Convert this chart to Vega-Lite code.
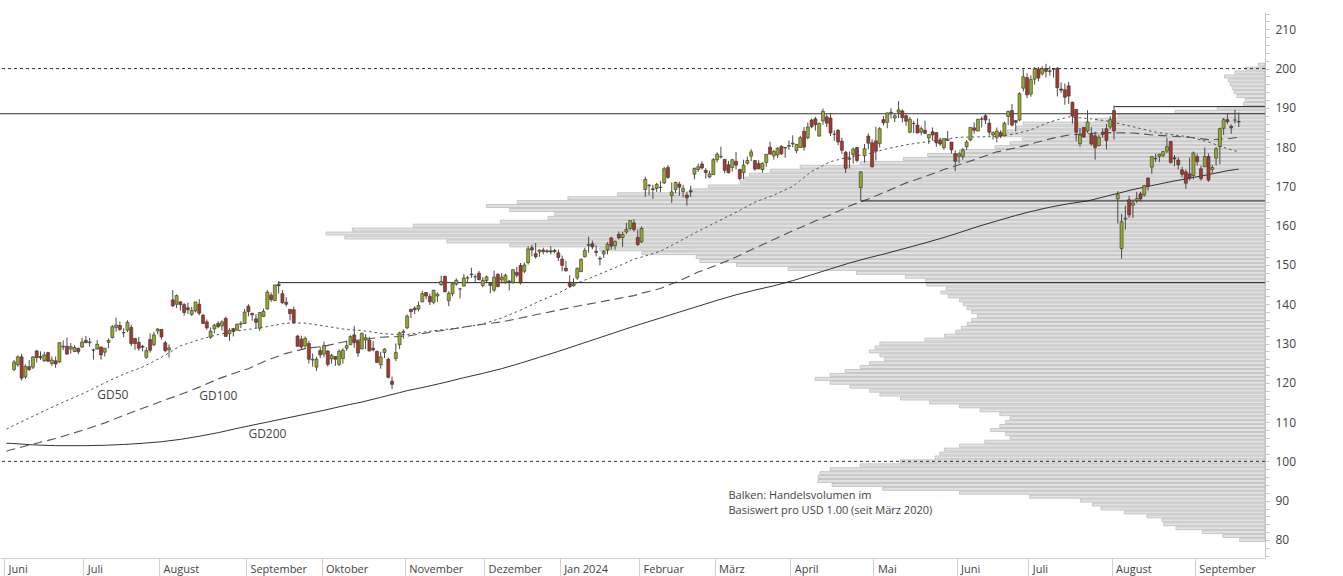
{
  "$schema": "https://vega.github.io/schema/vega-lite/v6.json",
  "width": 1265,
  "height": 546,
  "autosize": {"type": "none"},
  "padding": {"left": 0, "top": 12, "right": 78, "bottom": 18},
  "background": "white",
  "config": {
    "view": {"stroke": null},
    "font": "Open Sans",
    "text": {"font": "Open Sans"}
  },
  "datasets": {
    "candles": [
      {"d":"2023-06-05","o":123.4,"h":125.8,"l":123.0,"c":125.3},
      {"d":"2023-06-06","o":124.6,"h":127.0,"l":124.1,"c":126.6},
      {"d":"2023-06-07","o":126.6,"h":127.4,"l":120.6,"c":121.2},
      {"d":"2023-06-08","o":121.5,"h":124.7,"l":121.0,"c":124.2},
      {"d":"2023-06-09","o":124.1,"h":125.8,"l":123.0,"c":123.4},
      {"d":"2023-06-12","o":124.0,"h":126.8,"l":123.5,"c":126.6},
      {"d":"2023-06-13","o":128.1,"h":128.4,"l":125.2,"c":126.4},
      {"d":"2023-06-14","o":126.7,"h":128.0,"l":125.8,"c":126.4},
      {"d":"2023-06-15","o":125.6,"h":127.9,"l":125.3,"c":127.1},
      {"d":"2023-06-16","o":127.7,"h":127.9,"l":125.3,"c":125.5},
      {"d":"2023-06-20","o":124.9,"h":126.7,"l":124.3,"c":125.8},
      {"d":"2023-06-21","o":125.6,"h":126.7,"l":123.8,"c":124.8},
      {"d":"2023-06-22","o":125.3,"h":130.3,"l":125.1,"c":130.2},
      {"d":"2023-06-23","o":129.1,"h":130.8,"l":128.3,"c":129.3},
      {"d":"2023-06-26","o":129.3,"h":131.5,"l":127.2,"c":127.3},
      {"d":"2023-06-27","o":128.6,"h":130.1,"l":127.4,"c":129.2},
      {"d":"2023-06-28","o":128.0,"h":129.6,"l":127.8,"c":129.0},
      {"d":"2023-06-29","o":128.8,"h":128.9,"l":127.3,"c":127.9},
      {"d":"2023-06-30","o":129.1,"h":131.5,"l":128.9,"c":130.4},
      {"d":"2023-07-03","o":130.8,"h":131.9,"l":130.1,"c":130.2},
      {"d":"2023-07-05","o":130.2,"h":131.4,"l":129.2,"c":130.4},
      {"d":"2023-07-06","o":128.3,"h":128.7,"l":125.9,"c":128.4},
      {"d":"2023-07-07","o":128.6,"h":130.9,"l":128.4,"c":129.8},
      {"d":"2023-07-10","o":129.1,"h":129.3,"l":125.9,"c":127.1},
      {"d":"2023-07-11","o":127.8,"h":128.8,"l":126.7,"c":128.8},
      {"d":"2023-07-12","o":130.3,"h":131.3,"l":128.8,"c":130.8},
      {"d":"2023-07-13","o":131.5,"h":134.7,"l":131.3,"c":134.3},
      {"d":"2023-07-14","o":134.1,"h":136.6,"l":133.0,"c":134.7},
      {"d":"2023-07-17","o":134.6,"h":135.6,"l":133.2,"c":133.6},
      {"d":"2023-07-18","o":132.7,"h":133.9,"l":131.6,"c":132.8},
      {"d":"2023-07-19","o":133.4,"h":135.9,"l":132.9,"c":135.4},
      {"d":"2023-07-20","o":134.1,"h":134.8,"l":129.3,"c":130.0},
      {"d":"2023-07-21","o":131.3,"h":131.4,"l":128.4,"c":130.0},
      {"d":"2023-07-24","o":130.3,"h":131.7,"l":128.2,"c":128.8},
      {"d":"2023-07-25","o":129.3,"h":129.6,"l":128.0,"c":129.1},
      {"d":"2023-07-26","o":126.5,"h":129.1,"l":126.1,"c":128.2},
      {"d":"2023-07-27","o":131.0,"h":132.6,"l":127.7,"c":128.3},
      {"d":"2023-07-28","o":129.7,"h":133.0,"l":129.3,"c":132.2},
      {"d":"2023-07-31","o":133.2,"h":133.9,"l":132.4,"c":133.7},
      {"d":"2023-08-01","o":133.6,"h":133.7,"l":131.0,"c":131.7},
      {"d":"2023-08-02","o":130.2,"h":130.7,"l":127.8,"c":128.2},
      {"d":"2023-08-03","o":128.4,"h":129.8,"l":126.4,"c":128.9},
      {"d":"2023-08-04","o":141.1,"h":143.6,"l":139.3,"c":139.6},
      {"d":"2023-08-07","o":140.0,"h":142.5,"l":139.0,"c":142.2},
      {"d":"2023-08-08","o":140.6,"h":140.8,"l":138.4,"c":139.9},
      {"d":"2023-08-09","o":139.9,"h":140.3,"l":137.1,"c":137.9},
      {"d":"2023-08-10","o":139.1,"h":140.4,"l":137.5,"c":138.6},
      {"d":"2023-08-11","o":137.4,"h":139.3,"l":137.0,"c":138.4},
      {"d":"2023-08-14","o":138.3,"h":140.6,"l":137.9,"c":140.6},
      {"d":"2023-08-15","o":140.0,"h":141.3,"l":137.2,"c":137.7},
      {"d":"2023-08-16","o":137.2,"h":137.6,"l":135.0,"c":135.1},
      {"d":"2023-08-17","o":135.5,"h":136.1,"l":133.5,"c":134.0},
      {"d":"2023-08-18","o":131.6,"h":134.1,"l":131.2,"c":133.2},
      {"d":"2023-08-21","o":133.7,"h":135.0,"l":132.6,"c":134.7},
      {"d":"2023-08-22","o":135.1,"h":135.7,"l":133.9,"c":134.3},
      {"d":"2023-08-23","o":134.5,"h":135.9,"l":133.3,"c":135.5},
      {"d":"2023-08-24","o":136.4,"h":136.8,"l":131.8,"c":131.8},
      {"d":"2023-08-25","o":132.5,"h":133.9,"l":130.7,"c":133.3},
      {"d":"2023-08-28","o":133.8,"h":133.9,"l":131.8,"c":133.1},
      {"d":"2023-08-29","o":133.4,"h":135.1,"l":133.3,"c":134.9},
      {"d":"2023-08-30","o":134.9,"h":135.7,"l":133.9,"c":135.1},
      {"d":"2023-08-31","o":135.1,"h":138.8,"l":135.0,"c":138.0},
      {"d":"2023-09-01","o":139.5,"h":140.0,"l":136.9,"c":138.1},
      {"d":"2023-09-05","o":137.7,"h":137.8,"l":135.8,"c":137.3},
      {"d":"2023-09-06","o":136.3,"h":137.5,"l":133.9,"c":135.4},
      {"d":"2023-09-07","o":133.9,"h":138.0,"l":133.2,"c":137.9},
      {"d":"2023-09-08","o":136.9,"h":138.9,"l":136.8,"c":138.2},
      {"d":"2023-09-11","o":138.8,"h":143.6,"l":138.6,"c":143.1},
      {"d":"2023-09-12","o":142.3,"h":143.0,"l":140.6,"c":141.2},
      {"d":"2023-09-13","o":140.9,"h":145.0,"l":140.9,"c":144.9},
      {"d":"2023-09-14","o":145.1,"h":145.9,"l":142.7,"c":144.7},
      {"d":"2023-09-15","o":142.7,"h":143.6,"l":140.1,"c":140.4},
      {"d":"2023-09-18","o":140.5,"h":141.8,"l":139.4,"c":140.0},
      {"d":"2023-09-19","o":138.7,"h":138.8,"l":135.9,"c":137.6},
      {"d":"2023-09-20","o":138.6,"h":139.4,"l":135.1,"c":135.3},
      {"d":"2023-09-21","o":131.9,"h":132.2,"l":129.2,"c":129.3},
      {"d":"2023-09-22","o":131.1,"h":132.0,"l":128.5,"c":129.1},
      {"d":"2023-09-25","o":129.4,"h":131.8,"l":128.8,"c":131.3},
      {"d":"2023-09-26","o":130.0,"h":130.7,"l":124.9,"c":126.0},
      {"d":"2023-09-27","o":125.8,"h":127.5,"l":124.1,"c":126.0},
      {"d":"2023-09-28","o":124.0,"h":126.6,"l":123.0,"c":126.0},
      {"d":"2023-09-29","o":128.2,"h":129.2,"l":126.3,"c":127.1},
      {"d":"2023-10-02","o":127.3,"h":130.5,"l":126.5,"c":129.5},
      {"d":"2023-10-03","o":128.1,"h":128.3,"l":124.1,"c":124.7},
      {"d":"2023-10-04","o":126.1,"h":127.4,"l":124.9,"c":127.0},
      {"d":"2023-10-05","o":126.7,"h":126.8,"l":124.3,"c":126.0},
      {"d":"2023-10-06","o":124.7,"h":128.5,"l":124.3,"c":128.0},
      {"d":"2023-10-09","o":126.2,"h":128.8,"l":124.9,"c":128.3},
      {"d":"2023-10-10","o":128.8,"h":130.7,"l":128.1,"c":129.5},
      {"d":"2023-10-11","o":129.7,"h":132.1,"l":129.6,"c":131.8},
      {"d":"2023-10-12","o":132.2,"h":134.5,"l":128.9,"c":130.2},
      {"d":"2023-10-13","o":130.6,"h":130.9,"l":126.6,"c":127.6},
      {"d":"2023-10-16","o":128.6,"h":132.8,"l":128.6,"c":132.6},
      {"d":"2023-10-17","o":130.9,"h":132.4,"l":128.6,"c":131.5},
      {"d":"2023-10-18","o":130.9,"h":131.7,"l":128.0,"c":128.1},
      {"d":"2023-10-19","o":128.8,"h":130.6,"l":128.0,"c":128.4},
      {"d":"2023-10-20","o":128.0,"h":128.2,"l":125.0,"c":125.2},
      {"d":"2023-10-23","o":124.6,"h":127.9,"l":123.6,"c":126.6},
      {"d":"2023-10-24","o":127.7,"h":128.8,"l":126.3,"c":128.6},
      {"d":"2023-10-25","o":126.0,"h":126.4,"l":121.1,"c":121.4},
      {"d":"2023-10-26","o":120.4,"h":121.6,"l":118.4,"c":119.6},
      {"d":"2023-10-27","o":126.2,"h":130.0,"l":125.5,"c":127.7},
      {"d":"2023-10-30","o":129.7,"h":133.0,"l":128.6,"c":132.7},
      {"d":"2023-10-31","o":132.8,"h":133.6,"l":131.2,"c":133.1},
      {"d":"2023-11-01","o":134.0,"h":137.4,"l":133.7,"c":137.0},
      {"d":"2023-11-02","o":138.7,"h":138.8,"l":136.5,"c":138.1},
      {"d":"2023-11-03","o":139.0,"h":139.5,"l":137.5,"c":138.6},
      {"d":"2023-11-06","o":138.8,"h":140.7,"l":138.2,"c":139.7},
      {"d":"2023-11-07","o":140.6,"h":143.4,"l":140.5,"c":142.7},
      {"d":"2023-11-08","o":143.0,"h":143.1,"l":141.3,"c":142.1},
      {"d":"2023-11-09","o":142.0,"h":142.7,"l":139.8,"c":140.6},
      {"d":"2023-11-10","o":140.5,"h":143.6,"l":140.0,"c":143.6},
      {"d":"2023-11-13","o":142.1,"h":143.0,"l":140.6,"c":142.6},
      {"d":"2023-11-14","o":145.0,"h":147.3,"l":144.7,"c":145.8},
      {"d":"2023-11-15","o":147.1,"h":147.3,"l":143.0,"c":143.2},
      {"d":"2023-11-16","o":140.9,"h":143.3,"l":139.5,"c":142.8},
      {"d":"2023-11-17","o":142.7,"h":145.5,"l":142.0,"c":145.2},
      {"d":"2023-11-20","o":145.1,"h":146.6,"l":144.7,"c":146.1},
      {"d":"2023-11-21","o":143.9,"h":144.1,"l":141.5,"c":143.9},
      {"d":"2023-11-22","o":144.6,"h":147.7,"l":144.6,"c":146.7},
      {"d":"2023-11-24","o":146.7,"h":147.2,"l":145.3,"c":146.7},
      {"d":"2023-11-27","o":147.5,"h":149.3,"l":146.7,"c":147.7},
      {"d":"2023-11-28","o":146.98,"h":147.6,"l":145.5,"c":147.0},
      {"d":"2023-11-29","o":147.9,"h":148.5,"l":146.0,"c":146.3},
      {"d":"2023-11-30","o":144.8,"h":146.9,"l":144.3,"c":146.1},
      {"d":"2023-12-01","o":146.0,"h":147.3,"l":145.6,"c":147.0},
      {"d":"2023-12-04","o":145.3,"h":145.4,"l":142.8,"c":144.8},
      {"d":"2023-12-05","o":143.6,"h":148.6,"l":143.1,"c":146.9},
      {"d":"2023-12-06","o":147.6,"h":147.9,"l":144.3,"c":144.5},
      {"d":"2023-12-07","o":146.2,"h":147.9,"l":145.3,"c":146.9},
      {"d":"2023-12-08","o":145.5,"h":147.8,"l":145.2,"c":147.4},
      {"d":"2023-12-11","o":145.7,"h":146.2,"l":143.5,"c":145.9},
      {"d":"2023-12-12","o":145.5,"h":148.9,"l":145.3,"c":148.8},
      {"d":"2023-12-13","o":148.1,"h":149.5,"l":146.8,"c":147.4},
      {"d":"2023-12-14","o":149.9,"h":150.5,"l":145.0,"c":145.5},
      {"d":"2023-12-15","o":148.4,"h":150.6,"l":147.9,"c":150.0},
      {"d":"2023-12-18","o":150.6,"h":154.8,"l":150.1,"c":154.1},
      {"d":"2023-12-19","o":154.4,"h":155.1,"l":152.2,"c":153.8},
      {"d":"2023-12-20","o":152.9,"h":155.6,"l":151.6,"c":152.1},
      {"d":"2023-12-21","o":153.3,"h":154.0,"l":152.1,"c":153.8},
      {"d":"2023-12-22","o":153.8,"h":154.4,"l":152.7,"c":153.4},
      {"d":"2023-12-26","o":153.6,"h":154.0,"l":153.0,"c":153.4},
      {"d":"2023-12-27","o":153.6,"h":154.8,"l":152.7,"c":153.3},
      {"d":"2023-12-28","o":153.7,"h":154.1,"l":153.0,"c":153.4},
      {"d":"2023-12-29","o":153.1,"h":153.9,"l":151.0,"c":151.9},
      {"d":"2024-01-02","o":151.5,"h":152.4,"l":148.4,"c":149.9},
      {"d":"2024-01-03","o":149.2,"h":151.1,"l":148.3,"c":148.5},
      {"d":"2024-01-04","o":145.6,"h":147.4,"l":144.1,"c":144.6},
      {"d":"2024-01-05","o":144.7,"h":146.6,"l":144.5,"c":145.2},
      {"d":"2024-01-08","o":146.7,"h":149.4,"l":146.2,"c":149.1},
      {"d":"2024-01-09","o":148.3,"h":151.7,"l":148.2,"c":151.4},
      {"d":"2024-01-10","o":152.1,"h":154.4,"l":151.9,"c":153.7},
      {"d":"2024-01-11","o":155.0,"h":157.2,"l":153.1,"c":155.2},
      {"d":"2024-01-12","o":155.4,"h":156.2,"l":154.0,"c":154.6},
      {"d":"2024-01-16","o":153.5,"h":155.0,"l":152.2,"c":153.2},
      {"d":"2024-01-17","o":151.5,"h":152.2,"l":149.9,"c":151.7},
      {"d":"2024-01-18","o":152.8,"h":153.8,"l":151.8,"c":153.5},
      {"d":"2024-01-19","o":153.8,"h":155.8,"l":152.7,"c":155.3},
      {"d":"2024-01-22","o":156.9,"h":157.1,"l":153.9,"c":154.8},
      {"d":"2024-01-23","o":154.9,"h":156.2,"l":153.9,"c":156.0},
      {"d":"2024-01-24","o":157.8,"h":158.5,"l":156.5,"c":156.9},
      {"d":"2024-01-25","o":157.0,"h":158.5,"l":154.6,"c":157.8},
      {"d":"2024-01-26","o":158.4,"h":160.7,"l":157.9,"c":159.1},
      {"d":"2024-01-29","o":159.3,"h":161.3,"l":158.8,"c":161.3},
      {"d":"2024-01-30","o":160.7,"h":161.7,"l":158.5,"c":159.0},
      {"d":"2024-01-31","o":157.0,"h":159.0,"l":154.8,"c":155.2},
      {"d":"2024-02-01","o":155.9,"h":159.8,"l":155.6,"c":159.3},
      {"d":"2024-02-02","o":169.2,"h":172.5,"l":167.3,"c":171.8},
      {"d":"2024-02-05","o":170.2,"h":170.6,"l":167.7,"c":170.3},
      {"d":"2024-02-06","o":169.4,"h":170.4,"l":166.8,"c":169.2},
      {"d":"2024-02-07","o":169.5,"h":170.9,"l":168.6,"c":170.5},
      {"d":"2024-02-08","o":169.7,"h":171.4,"l":168.5,"c":169.8},
      {"d":"2024-02-09","o":170.9,"h":175.0,"l":170.6,"c":174.5},
      {"d":"2024-02-12","o":174.8,"h":175.4,"l":171.9,"c":172.3},
      {"d":"2024-02-13","o":167.7,"h":171.0,"l":165.8,"c":168.6},
      {"d":"2024-02-14","o":169.2,"h":171.2,"l":168.3,"c":171.0},
      {"d":"2024-02-15","o":170.6,"h":171.2,"l":167.6,"c":169.8},
      {"d":"2024-02-16","o":168.7,"h":170.4,"l":167.2,"c":169.5},
      {"d":"2024-02-20","o":167.8,"h":168.7,"l":165.1,"c":167.1},
      {"d":"2024-02-21","o":168.9,"h":170.2,"l":167.3,"c":168.6},
      {"d":"2024-02-22","o":173.1,"h":174.8,"l":171.8,"c":174.6},
      {"d":"2024-02-23","o":174.3,"h":175.8,"l":173.7,"c":175.0},
      {"d":"2024-02-26","o":175.7,"h":176.4,"l":174.3,"c":174.7},
      {"d":"2024-02-27","o":174.1,"h":174.6,"l":172.0,"c":173.5},
      {"d":"2024-02-28","o":172.4,"h":174.0,"l":172.1,"c":173.2},
      {"d":"2024-02-29","o":173.0,"h":177.2,"l":172.9,"c":176.8},
      {"d":"2024-03-01","o":176.8,"h":178.7,"l":176.1,"c":178.2},
      {"d":"2024-03-04","o":177.5,"h":180.1,"l":177.1,"c":177.6},
      {"d":"2024-03-05","o":176.9,"h":176.9,"l":173.3,"c":174.1},
      {"d":"2024-03-06","o":175.5,"h":176.5,"l":173.3,"c":173.5},
      {"d":"2024-03-07","o":174.8,"h":177.0,"l":173.8,"c":176.8},
      {"d":"2024-03-08","o":176.4,"h":178.8,"l":174.3,"c":175.4},
      {"d":"2024-03-11","o":174.3,"h":174.5,"l":171.5,"c":172.0},
      {"d":"2024-03-12","o":173.5,"h":176.8,"l":171.8,"c":175.4},
      {"d":"2024-03-13","o":175.9,"h":177.6,"l":175.5,"c":176.6},
      {"d":"2024-03-14","o":177.7,"h":179.5,"l":176.4,"c":178.8},
      {"d":"2024-03-15","o":176.6,"h":176.6,"l":174.0,"c":174.4},
      {"d":"2024-03-18","o":175.8,"h":176.7,"l":174.3,"c":174.5},
      {"d":"2024-03-19","o":174.3,"h":176.1,"l":173.5,"c":175.9},
      {"d":"2024-03-20","o":176.1,"h":178.2,"l":175.0,"c":178.2},
      {"d":"2024-03-21","o":180.0,"h":181.4,"l":178.2,"c":178.2},
      {"d":"2024-03-22","o":177.8,"h":179.3,"l":176.8,"c":178.9},
      {"d":"2024-03-25","o":178.0,"h":180.0,"l":177.2,"c":179.7},
      {"d":"2024-03-26","o":180.2,"h":180.5,"l":178.0,"c":178.3},
      {"d":"2024-03-27","o":179.9,"h":180.0,"l":177.3,"c":179.8},
      {"d":"2024-03-28","o":180.2,"h":181.7,"l":179.3,"c":180.4},
      {"d":"2024-04-01","o":180.8,"h":183.0,"l":180.0,"c":181.0},
      {"d":"2024-04-02","o":179.1,"h":180.8,"l":178.4,"c":180.7},
      {"d":"2024-04-03","o":179.9,"h":182.9,"l":179.8,"c":182.4},
      {"d":"2024-04-04","o":184.0,"h":185.1,"l":179.1,"c":180.0},
      {"d":"2024-04-05","o":182.4,"h":186.3,"l":182.0,"c":185.1},
      {"d":"2024-04-08","o":186.9,"h":187.3,"l":184.8,"c":185.2},
      {"d":"2024-04-09","o":187.2,"h":187.7,"l":184.2,"c":185.7},
      {"d":"2024-04-10","o":182.8,"h":186.3,"l":182.7,"c":186.0},
      {"d":"2024-04-11","o":186.7,"h":189.8,"l":185.7,"c":189.1},
      {"d":"2024-04-12","o":187.7,"h":188.4,"l":185.1,"c":186.1},
      {"d":"2024-04-15","o":187.4,"h":188.7,"l":182.8,"c":183.6},
      {"d":"2024-04-16","o":183.3,"h":184.3,"l":181.6,"c":183.3},
      {"d":"2024-04-17","o":184.3,"h":184.6,"l":180.5,"c":181.3},
      {"d":"2024-04-18","o":181.5,"h":182.4,"l":178.3,"c":179.2},
      {"d":"2024-04-19","o":178.7,"h":179.0,"l":173.4,"c":174.6},
      {"d":"2024-04-22","o":176.9,"h":178.9,"l":174.6,"c":177.2},
      {"d":"2024-04-23","o":178.1,"h":179.9,"l":175.8,"c":179.5},
      {"d":"2024-04-24","o":179.9,"h":180.0,"l":176.1,"c":176.6},
      {"d":"2024-04-25","o":169.7,"h":173.9,"l":166.3,"c":173.7},
      {"d":"2024-04-26","o":177.8,"h":180.8,"l":176.1,"c":179.6},
      {"d":"2024-04-29","o":182.8,"h":183.5,"l":179.4,"c":181.0},
      {"d":"2024-04-30","o":181.1,"h":182.0,"l":174.8,"c":175.0},
      {"d":"2024-05-01","o":181.6,"h":185.2,"l":176.6,"c":179.0},
      {"d":"2024-05-02","o":180.9,"h":185.1,"l":179.9,"c":184.7},
      {"d":"2024-05-03","o":187.0,"h":187.9,"l":185.5,"c":186.2},
      {"d":"2024-05-06","o":186.3,"h":188.8,"l":184.8,"c":188.7},
      {"d":"2024-05-07","o":188.9,"h":189.9,"l":187.3,"c":188.8},
      {"d":"2024-05-08","o":187.4,"h":188.4,"l":186.4,"c":188.0},
      {"d":"2024-05-09","o":188.9,"h":191.7,"l":187.4,"c":189.5},
      {"d":"2024-05-10","o":189.2,"h":189.6,"l":186.3,"c":187.5},
      {"d":"2024-05-13","o":188.0,"h":188.3,"l":185.4,"c":186.6},
      {"d":"2024-05-14","o":183.8,"h":187.7,"l":183.5,"c":187.1},
      {"d":"2024-05-15","o":186.0,"h":186.7,"l":183.6,"c":186.0},
      {"d":"2024-05-16","o":185.6,"h":187.3,"l":183.5,"c":183.6},
      {"d":"2024-05-17","o":183.8,"h":185.3,"l":183.0,"c":184.7},
      {"d":"2024-05-20","o":184.3,"h":186.7,"l":183.3,"c":183.5},
      {"d":"2024-05-21","o":182.3,"h":183.3,"l":180.8,"c":183.2},
      {"d":"2024-05-22","o":183.9,"h":185.0,"l":181.6,"c":183.1},
      {"d":"2024-05-23","o":183.7,"h":183.8,"l":180.1,"c":181.1},
      {"d":"2024-05-24","o":181.7,"h":182.4,"l":180.3,"c":180.8},
      {"d":"2024-05-28","o":179.9,"h":182.2,"l":179.3,"c":182.2},
      {"d":"2024-05-29","o":181.7,"h":184.1,"l":181.5,"c":182.0},
      {"d":"2024-05-30","o":181.3,"h":181.3,"l":178.4,"c":179.3},
      {"d":"2024-05-31","o":178.3,"h":179.2,"l":173.9,"c":176.4},
      {"d":"2024-06-03","o":177.7,"h":178.7,"l":175.9,"c":178.3},
      {"d":"2024-06-04","o":177.6,"h":179.8,"l":176.8,"c":179.3},
      {"d":"2024-06-05","o":180.1,"h":181.8,"l":179.3,"c":181.3},
      {"d":"2024-06-06","o":181.8,"h":185.0,"l":181.5,"c":185.0},
      {"d":"2024-06-07","o":184.9,"h":186.3,"l":183.4,"c":184.3},
      {"d":"2024-06-10","o":184.1,"h":187.2,"l":184.0,"c":187.1},
      {"d":"2024-06-11","o":187.1,"h":187.8,"l":185.0,"c":187.2},
      {"d":"2024-06-12","o":188.0,"h":188.4,"l":185.9,"c":186.9},
      {"d":"2024-06-13","o":186.1,"h":187.2,"l":182.9,"c":183.8},
      {"d":"2024-06-14","o":183.1,"h":184.0,"l":181.9,"c":183.7},
      {"d":"2024-06-17","o":182.5,"h":185.0,"l":181.2,"c":184.1},
      {"d":"2024-06-18","o":183.7,"h":184.3,"l":182.3,"c":182.8},
      {"d":"2024-06-20","o":182.9,"h":186.5,"l":182.7,"c":186.1},
      {"d":"2024-06-21","o":187.8,"h":189.3,"l":185.6,"c":189.1},
      {"d":"2024-06-24","o":189.3,"h":191.0,"l":185.3,"c":185.6},
      {"d":"2024-06-25","o":186.8,"h":186.9,"l":184.0,"c":186.3},
      {"d":"2024-06-26","o":186.9,"h":194.0,"l":186.6,"c":193.6},
      {"d":"2024-06-27","o":195.0,"h":199.8,"l":194.2,"c":197.9},
      {"d":"2024-06-28","o":197.7,"h":198.8,"l":192.5,"c":193.3},
      {"d":"2024-07-01","o":193.5,"h":198.3,"l":192.8,"c":197.2},
      {"d":"2024-07-02","o":197.3,"h":200.4,"l":195.9,"c":200.0},
      {"d":"2024-07-03","o":199.9,"h":200.4,"l":196.8,"c":197.6},
      {"d":"2024-07-05","o":198.7,"h":200.6,"l":198.2,"c":200.0},
      {"d":"2024-07-08","o":200.0,"h":201.2,"l":197.7,"c":199.3},
      {"d":"2024-07-09","o":199.4,"h":200.6,"l":198.2,"c":199.3},
      {"d":"2024-07-10","o":200.0,"h":200.1,"l":197.7,"c":199.8},
      {"d":"2024-07-11","o":200.1,"h":200.3,"l":192.9,"c":195.1},
      {"d":"2024-07-12","o":194.8,"h":196.5,"l":193.8,"c":194.5},
      {"d":"2024-07-15","o":194.6,"h":196.2,"l":190.8,"c":192.7},
      {"d":"2024-07-16","o":195.6,"h":196.6,"l":191.0,"c":193.0},
      {"d":"2024-07-17","o":191.4,"h":191.6,"l":186.0,"c":187.9},
      {"d":"2024-07-18","o":189.6,"h":189.7,"l":181.5,"c":183.8},
      {"d":"2024-07-19","o":180.9,"h":184.9,"l":180.1,"c":183.1},
      {"d":"2024-07-22","o":185.0,"h":185.1,"l":182.3,"c":182.6},
      {"d":"2024-07-23","o":184.1,"h":189.4,"l":183.6,"c":186.4},
      {"d":"2024-07-24","o":183.2,"h":185.1,"l":180.4,"c":180.8},
      {"d":"2024-07-25","o":182.9,"h":183.9,"l":176.8,"c":179.9},
      {"d":"2024-07-26","o":180.4,"h":183.2,"l":180.2,"c":182.5},
      {"d":"2024-07-29","o":183.8,"h":184.8,"l":182.4,"c":183.2},
      {"d":"2024-07-30","o":184.7,"h":185.9,"l":179.4,"c":181.7},
      {"d":"2024-07-31","o":185.1,"h":187.9,"l":184.5,"c":187.0},
      {"d":"2024-08-01","o":189.3,"h":190.6,"l":181.9,"c":184.1},
      {"d":"2024-08-02","o":166.8,"h":168.8,"l":160.6,"c":167.9},
      {"d":"2024-08-05","o":154.2,"h":163.0,"l":151.6,"c":161.0},
      {"d":"2024-08-06","o":161.7,"h":165.1,"l":159.0,"c":161.9},
      {"d":"2024-08-07","o":166.6,"h":167.6,"l":162.0,"c":162.8},
      {"d":"2024-08-08","o":165.2,"h":166.7,"l":162.0,"c":165.8},
      {"d":"2024-08-09","o":166.4,"h":168.6,"l":165.8,"c":166.9},
      {"d":"2024-08-12","o":168.1,"h":168.6,"l":166.1,"c":166.8},
      {"d":"2024-08-13","o":167.8,"h":170.4,"l":167.4,"c":170.2},
      {"d":"2024-08-14","o":172.1,"h":172.3,"l":168.9,"c":170.1},
      {"d":"2024-08-15","o":174.9,"h":177.7,"l":173.2,"c":177.6},
      {"d":"2024-08-16","o":177.0,"h":178.3,"l":176.2,"c":177.1},
      {"d":"2024-08-19","o":177.6,"h":178.3,"l":176.2,"c":178.2},
      {"d":"2024-08-20","o":177.9,"h":179.0,"l":177.4,"c":178.9},
      {"d":"2024-08-21","o":179.0,"h":182.4,"l":178.5,"c":180.1},
      {"d":"2024-08-22","o":181.4,"h":181.6,"l":175.8,"c":176.1},
      {"d":"2024-08-23","o":177.3,"h":178.0,"l":175.1,"c":177.0},
      {"d":"2024-08-26","o":176.7,"h":177.4,"l":174.3,"c":175.5},
      {"d":"2024-08-27","o":174.2,"h":175.0,"l":172.3,"c":173.1},
      {"d":"2024-08-28","o":173.7,"h":174.3,"l":169.4,"c":170.8},
      {"d":"2024-08-29","o":173.2,"h":177.3,"l":171.5,"c":172.1},
      {"d":"2024-08-30","o":172.8,"h":178.9,"l":171.8,"c":178.5},
      {"d":"2024-09-03","o":177.6,"h":178.3,"l":175.3,"c":176.3},
      {"d":"2024-09-04","o":174.5,"h":175.3,"l":171.5,"c":172.0},
      {"d":"2024-09-05","o":175.0,"h":179.9,"l":175.0,"c":177.6},
      {"d":"2024-09-06","o":177.6,"h":178.4,"l":171.2,"c":171.6},
      {"d":"2024-09-09","o":174.3,"h":175.5,"l":173.3,"c":174.8},
      {"d":"2024-09-10","o":177.2,"h":180.0,"l":175.3,"c":179.6},
      {"d":"2024-09-11","o":180.1,"h":185.0,"l":175.7,"c":184.7},
      {"d":"2024-09-12","o":184.8,"h":187.4,"l":183.1,"c":187.0},
      {"d":"2024-09-13","o":187.0,"h":188.5,"l":185.9,"c":186.5},
      {"d":"2024-09-16","o":185.3,"h":185.8,"l":183.4,"c":184.9},
      {"d":"2024-09-17","o":186.9,"h":189.5,"l":186.0,"c":186.9},
      {"d":"2024-09-18","o":186.5,"h":188.8,"l":185.1,"c":186.4}
    ],
    "ma": [
      {"d":"2023-06-01","g50":108.2,"g100":102.6,"g200":104.6},
      {"d":"2023-06-02","g50":108.7,"g100":102.9,"g200":104.6},
      {"d":"2023-06-12","g50":111.5,"g100":104.4,"g200":104.2},
      {"d":"2023-06-21","g50":114.2,"g100":105.8,"g200":104.0},
      {"d":"2023-07-03","g50":117.6,"g100":108.2,"g200":104.0},
      {"d":"2023-07-11","g50":120.0,"g100":109.8,"g200":104.1},
      {"d":"2023-07-18","g50":122.2,"g100":111.7,"g200":104.3},
      {"d":"2023-07-25","g50":124.0,"g100":113.5,"g200":104.6},
      {"d":"2023-08-01","g50":126.5,"g100":115.3,"g200":105.0},
      {"d":"2023-08-08","g50":129.4,"g100":117.0,"g200":105.6},
      {"d":"2023-08-15","g50":131.0,"g100":118.9,"g200":106.4},
      {"d":"2023-08-22","g50":132.3,"g100":121.0,"g200":107.3},
      {"d":"2023-08-29","g50":133.2,"g100":122.7,"g200":108.4},
      {"d":"2023-09-01","g50":133.6,"g100":123.6,"g200":109.0},
      {"d":"2023-09-11","g50":134.3,"g100":125.8,"g200":110.0},
      {"d":"2023-09-18","g50":135.2,"g100":127.5,"g200":111.0},
      {"d":"2023-09-25","g50":135.2,"g100":128.7,"g200":112.0},
      {"d":"2023-10-02","g50":134.5,"g100":129.3,"g200":113.0},
      {"d":"2023-10-09","g50":133.7,"g100":130.4,"g200":114.1},
      {"d":"2023-10-16","g50":133.3,"g100":131.0,"g200":115.1},
      {"d":"2023-10-23","g50":132.6,"g100":131.6,"g200":116.3},
      {"d":"2023-10-30","g50":132.2,"g100":131.8,"g200":117.5},
      {"d":"2023-11-01","g50":132.3,"g100":131.9,"g200":118.0},
      {"d":"2023-11-08","g50":133.0,"g100":132.7,"g200":119.0},
      {"d":"2023-11-15","g50":133.6,"g100":133.4,"g200":120.1},
      {"d":"2023-11-22","g50":134.1,"g100":134.2,"g200":121.3},
      {"d":"2023-11-30","g50":135.0,"g100":134.9,"g200":122.4},
      {"d":"2023-12-07","g50":136.5,"g100":135.5,"g200":123.6},
      {"d":"2023-12-14","g50":138.5,"g100":136.5,"g200":125.0},
      {"d":"2023-12-21","g50":140.8,"g100":137.5,"g200":126.5},
      {"d":"2023-12-29","g50":142.8,"g100":138.5,"g200":128.0},
      {"d":"2024-01-08","g50":145.4,"g100":139.5,"g200":129.6},
      {"d":"2024-01-16","g50":147.3,"g100":140.4,"g200":131.2},
      {"d":"2024-01-23","g50":149.3,"g100":141.3,"g200":132.8},
      {"d":"2024-01-30","g50":151.5,"g100":142.2,"g200":134.4},
      {"d":"2024-02-01","g50":152.0,"g100":142.8,"g200":135.0},
      {"d":"2024-02-08","g50":153.5,"g100":144.0,"g200":136.5},
      {"d":"2024-02-15","g50":156.0,"g100":146.0,"g200":138.0},
      {"d":"2024-02-23","g50":158.6,"g100":148.2,"g200":139.5},
      {"d":"2024-03-01","g50":161.0,"g100":150.0,"g200":141.0},
      {"d":"2024-03-08","g50":163.4,"g100":152.0,"g200":142.4},
      {"d":"2024-03-15","g50":166.0,"g100":154.3,"g200":143.6},
      {"d":"2024-03-22","g50":167.8,"g100":156.5,"g200":144.7},
      {"d":"2024-04-01","g50":170.0,"g100":158.7,"g200":146.0},
      {"d":"2024-04-08","g50":173.8,"g100":160.8,"g200":147.5},
      {"d":"2024-04-15","g50":176.3,"g100":162.8,"g200":149.0},
      {"d":"2024-04-22","g50":177.5,"g100":165.0,"g200":150.5},
      {"d":"2024-04-29","g50":178.3,"g100":166.8,"g200":151.8},
      {"d":"2024-05-06","g50":179.6,"g100":168.8,"g200":153.0},
      {"d":"2024-05-13","g50":180.6,"g100":170.9,"g200":154.3},
      {"d":"2024-05-20","g50":181.3,"g100":172.5,"g200":155.6},
      {"d":"2024-05-28","g50":182.0,"g100":174.3,"g200":157.0},
      {"d":"2024-06-03","g50":182.5,"g100":175.5,"g200":158.2},
      {"d":"2024-06-10","g50":182.6,"g100":177.1,"g200":159.8},
      {"d":"2024-06-17","g50":182.7,"g100":178.8,"g200":161.2},
      {"d":"2024-06-25","g50":183.4,"g100":179.8,"g200":162.6},
      {"d":"2024-07-01","g50":184.4,"g100":180.8,"g200":163.6},
      {"d":"2024-07-09","g50":186.4,"g100":182.1,"g200":164.7},
      {"d":"2024-07-16","g50":187.7,"g100":183.1,"g200":165.6},
      {"d":"2024-07-23","g50":187.3,"g100":183.4,"g200":166.3},
      {"d":"2024-07-30","g50":186.7,"g100":183.7,"g200":167.5},
      {"d":"2024-08-08","g50":185.2,"g100":183.6,"g200":169.2},
      {"d":"2024-08-15","g50":184.0,"g100":183.1,"g200":170.2},
      {"d":"2024-08-22","g50":183.2,"g100":182.8,"g200":171.2},
      {"d":"2024-08-29","g50":182.6,"g100":182.5,"g200":172.1},
      {"d":"2024-09-06","g50":181.3,"g100":181.9,"g200":173.0},
      {"d":"2024-09-13","g50":179.6,"g100":182.1,"g200":174.0},
      {"d":"2024-09-18","g50":178.8,"g100":182.5,"g200":174.4}
    ],
    "vol": [
      {"p":201,"v":0.7},{"p":200,"v":2.1},{"p":199,"v":3.2},{"p":198,"v":4.3},{"p":197,"v":3.9},
      {"p":196,"v":3.7},{"p":195,"v":3.5},{"p":194,"v":3.3},{"p":193,"v":3.0},{"p":192,"v":2.1},
      {"p":191,"v":2.3},{"p":190,"v":5.1},{"p":189,"v":9.6},{"p":188,"v":15.7},{"p":187,"v":18.1},
      {"p":186,"v":25.8},{"p":185,"v":26.5},{"p":184,"v":27.5},{"p":183,"v":28.1},{"p":182,"v":25.9},
      {"p":181,"v":27.2},{"p":180,"v":28.8},{"p":179,"v":32.6},{"p":178,"v":36.0},{"p":177,"v":38.6},
      {"p":176,"v":43.2},{"p":175,"v":49.6},{"p":174,"v":52.8},{"p":173,"v":55.0},{"p":172,"v":55.5},
      {"p":171,"v":56.0},{"p":170,"v":59.4},{"p":169,"v":61.4},{"p":168,"v":69.1},{"p":167,"v":74.4},
      {"p":166,"v":79.8},{"p":165,"v":83.1},{"p":164,"v":80.6},{"p":163,"v":75.8},{"p":162,"v":76.5},
      {"p":161,"v":81.6},{"p":160,"v":90.9},{"p":159,"v":97.4},{"p":158,"v":100.2},{"p":157,"v":98.2},
      {"p":156,"v":87.3},{"p":155,"v":80.6},{"p":154,"v":71.0},{"p":153,"v":66.5},{"p":152,"v":60.7},
      {"p":151,"v":60.3},{"p":150,"v":56.4},{"p":149,"v":50.9},{"p":148,"v":43.6},{"p":147,"v":38.4},
      {"p":146,"v":36.2},{"p":145,"v":36.1},{"p":144,"v":34.0},{"p":143,"v":34.6},{"p":142,"v":33.8},
      {"p":141,"v":32.6},{"p":140,"v":32.2},{"p":139,"v":31.8},{"p":138,"v":31.3},{"p":137,"v":30.7},
      {"p":136,"v":31.3},{"p":135,"v":31.8},{"p":134,"v":32.4},{"p":133,"v":33.0},{"p":132,"v":34.2},
      {"p":131,"v":36.3},{"p":130,"v":41.1},{"p":129,"v":41.6},{"p":128,"v":42.2},{"p":127,"v":41.1},
      {"p":126,"v":40.6},{"p":125,"v":42.2},{"p":124,"v":43.2},{"p":123,"v":44.8},{"p":122,"v":46.4},
      {"p":121,"v":48.0},{"p":120,"v":46.4},{"p":119,"v":44.3},{"p":118,"v":42.2},{"p":117,"v":41.1},
      {"p":116,"v":38.9},{"p":115,"v":35.8},{"p":114,"v":32.6},{"p":113,"v":30.4},{"p":112,"v":28.3},
      {"p":111,"v":27.2},{"p":110,"v":27.7},{"p":109,"v":28.3},{"p":108,"v":29.3},{"p":107,"v":27.7},
      {"p":106,"v":27.2},{"p":105,"v":29.9},{"p":104,"v":32.6},{"p":103,"v":34.2},{"p":102,"v":34.7},
      {"p":101,"v":35.2},{"p":100,"v":38.9},{"p":99,"v":43.2},{"p":98,"v":46.4},{"p":97,"v":47.5},
      {"p":96,"v":47.7},{"p":95,"v":47.7},{"p":94,"v":46.2},{"p":93,"v":40.8},{"p":92,"v":32.6},
      {"p":91,"v":25.1},{"p":90,"v":19.7},{"p":89,"v":18.4},{"p":88,"v":17.5},{"p":87,"v":15.0},
      {"p":86,"v":12.6},{"p":85,"v":11.0},{"p":84,"v":10.8},{"p":83,"v":9.5},{"p":82,"v":6.7},
      {"p":81,"v":4.5},{"p":80,"v":2.7}
    ],
    "full": [
      {"p":200,"k":"dot"},{"p":100,"k":"dot"},{"p":188.5,"k":"solid"}
    ],
    "levels": [
      {"d":"2023-09-14","p":145.5},
      {"d":"2024-04-25","p":166.3},
      {"d":"2024-08-01","p":190.3}
    ],
    "labels": [
      {"d":"2023-07-07","p":116.9,"t":"GD50"},
      {"d":"2023-08-15","p":116.7,"t":"GD100"},
      {"d":"2023-09-01","p":107.0,"t":"GD200"}
    ],
    "note": [
      {"d":"2024-03-06","p":92.6,"t":"Balken: Handelsvolumen im\nBasiswert pro USD 1.00 (seit März 2020)"}
    ]
  },
  "resolve": {"scale": {"x": "independent"}, "axis": {"x": "independent"}},
  "layer": [
    {
      "data": {"name": "vol"},
      "mark": {"type": "bar", "height": 3, "fill": "#e2e2e2", "stroke": "#b4b4b4", "strokeWidth": 0.7},
      "encoding": {
        "x": {"field": "v", "type": "quantitative", "scale": {"domain": [0, 135], "reverse": true}, "axis": null},
        "x2": {"datum": 0},
        "y": {
          "field": "p", "type": "quantitative",
          "scale": {"domain": [75.4, 214.4], "nice": false, "zero": false, "padding": 0},
          "axis": {
            "orient": "right", "title": null, "tickCount": 200,
            "values": [76,78,80,82,84,86,88,90,92,94,96,98,100,102,104,106,108,110,112,114,116,118,120,122,124,126,128,130,132,134,136,138,140,142,144,146,148,150,152,154,156,158,160,162,164,166,168,170,172,174,176,178,180,182,184,186,188,190,192,194,196,198,200,202,204,206,208,210,212,214],
            "labelExpr": "datum.value % 10 === 0 ? format(datum.value, 'd') : ''",
            "labelOverlap": false, "labelBound": false,
            "grid": false, "domainColor": "#c8c8c8", "tickColor": "#c8c8c8", "tickSize": 4,
            "labelPadding": 6, "labelFontSize": 12, "labelColor": "#444", "labelFont": "Open Sans"
          }
        }
      }
    },
    {
      "layer": [
        {
          "data": {"name": "ma"},
          "mark": {"type": "line", "stroke": "#333", "strokeWidth": 1},
          "encoding": {
            "x": {
              "field": "d", "type": "ordinal",
              "axis": {
                "title": null,
                "values": ["2023-06-01","2023-07-03","2023-08-01","2023-09-01","2023-10-02","2023-11-01","2023-12-01","2024-01-02","2024-02-01","2024-03-01","2024-04-01","2024-05-01","2024-06-03","2024-07-01","2024-08-01","2024-09-03"],
                "labelExpr": "datum.value == '2024-01-02' ? 'Jan 2024' : ['Januar','Februar','März','April','Mai','Juni','Juli','August','September','Oktober','November','Dezember'][toNumber(substring(datum.value,5,7))-1]",
                "bandPosition": 0, "tickSize": 18, "tickColor": "#d0d0d0", "domainColor": "#d0d0d0",
                "labelAngle": 0, "labelAlign": "left", "labelBaseline": "top", "labelOffset": 2, "labelPadding": -13,
                "labelFontSize": 11, "labelColor": "#444", "labelFont": "Open Sans", "grid": false,
                "labelOverlap": false, "labelBound": false
              }
            },
            "y": {"field": "g200", "type": "quantitative", "title": null, "scale": {"domain": [75.4, 214.4], "nice": false, "zero": false, "padding": 0}}
          }
        },
        {
          "data": {"name": "ma"},
          "mark": {"type": "line", "stroke": "#555", "strokeWidth": 1.1, "strokeDash": [9, 5]},
          "encoding": {
            "x": {"field": "d", "type": "ordinal", "title": null},
            "y": {"field": "g100", "type": "quantitative", "title": null, "scale": {"domain": [75.4, 214.4], "nice": false, "zero": false, "padding": 0}}
          }
        },
        {
          "data": {"name": "ma"},
          "mark": {"type": "line", "stroke": "#555", "strokeWidth": 1, "strokeDash": [2.5, 3]},
          "encoding": {
            "x": {"field": "d", "type": "ordinal", "title": null},
            "y": {"field": "g50", "type": "quantitative", "title": null, "scale": {"domain": [75.4, 214.4], "nice": false, "zero": false, "padding": 0}}
          }
        },
        {
          "data": {"name": "full"},
          "mark": {"type": "rule", "stroke": "#333", "strokeWidth": 1},
          "encoding": {
            "y": {"field": "p", "type": "quantitative", "title": null, "scale": {"domain": [75.4, 214.4], "nice": false, "zero": false, "padding": 0}},
            "strokeDash": {"field": "k", "type": "nominal", "scale": {"domain": ["dot", "solid"], "range": [[3, 3], [1, 0]]}, "legend": null}
          }
        },
        {
          "data": {"name": "levels"},
          "mark": {"type": "rule", "stroke": "#222", "strokeWidth": 1},
          "encoding": {
            "x": {"field": "d", "type": "ordinal", "title": null},
            "x2": {"value": "width"},
            "y": {"field": "p", "type": "quantitative", "title": null, "scale": {"domain": [75.4, 214.4], "nice": false, "zero": false, "padding": 0}}
          }
        },
        {
          "data": {"name": "candles"},
          "mark": {"type": "rule", "stroke": "#4a4a4a", "strokeWidth": 1},
          "encoding": {
            "x": {"field": "d", "type": "ordinal", "title": null},
            "y": {"field": "l", "type": "quantitative", "title": null, "scale": {"domain": [75.4, 214.4], "nice": false, "zero": false, "padding": 0}},
            "y2": {"field": "h"}
          }
        },
        {
          "data": {"name": "candles"},
          "mark": {"type": "bar", "width": {"band": 0.8}, "stroke": "#333", "strokeWidth": 0.6},
          "encoding": {
            "x": {
              "field": "d", "type": "ordinal", "title": null,
              "scale": {
                "domain": {"unionWith": ["2023-06-01","2023-06-02","2024-09-19","2024-09-20","2024-09-23","2024-09-24","2024-09-25","2024-09-26"]},
                "paddingInner": 0, "paddingOuter": 0.83, "align": 0.733
              }
            },
            "y": {"field": "o", "type": "quantitative", "title": null, "scale": {"domain": [75.4, 214.4], "nice": false, "zero": false, "padding": 0}},
            "y2": {"field": "c"},
            "fill": {"condition": {"test": "datum.c >= datum.o", "value": "#98ab28"}, "value": "#a8382b"}
          }
        },
        {
          "data": {"name": "labels"},
          "mark": {"type": "text", "align": "left", "baseline": "middle", "fontSize": 12, "fill": "#444", "font": "Open Sans"},
          "encoding": {
            "x": {"field": "d", "type": "ordinal", "title": null},
            "y": {"field": "p", "type": "quantitative", "title": null, "scale": {"domain": [75.4, 214.4], "nice": false, "zero": false, "padding": 0}},
            "text": {"field": "t"}
          }
        },
        {
          "data": {"name": "note"},
          "mark": {"type": "text", "align": "left", "baseline": "top", "fontSize": 11, "fill": "#444", "font": "Open Sans", "lineBreak": "\n", "lineHeight": 15},
          "encoding": {
            "x": {"field": "d", "type": "ordinal", "title": null},
            "y": {"field": "p", "type": "quantitative", "title": null, "scale": {"domain": [75.4, 214.4], "nice": false, "zero": false, "padding": 0}},
            "text": {"field": "t"}
          }
        }
      ]
    }
  ]
}
